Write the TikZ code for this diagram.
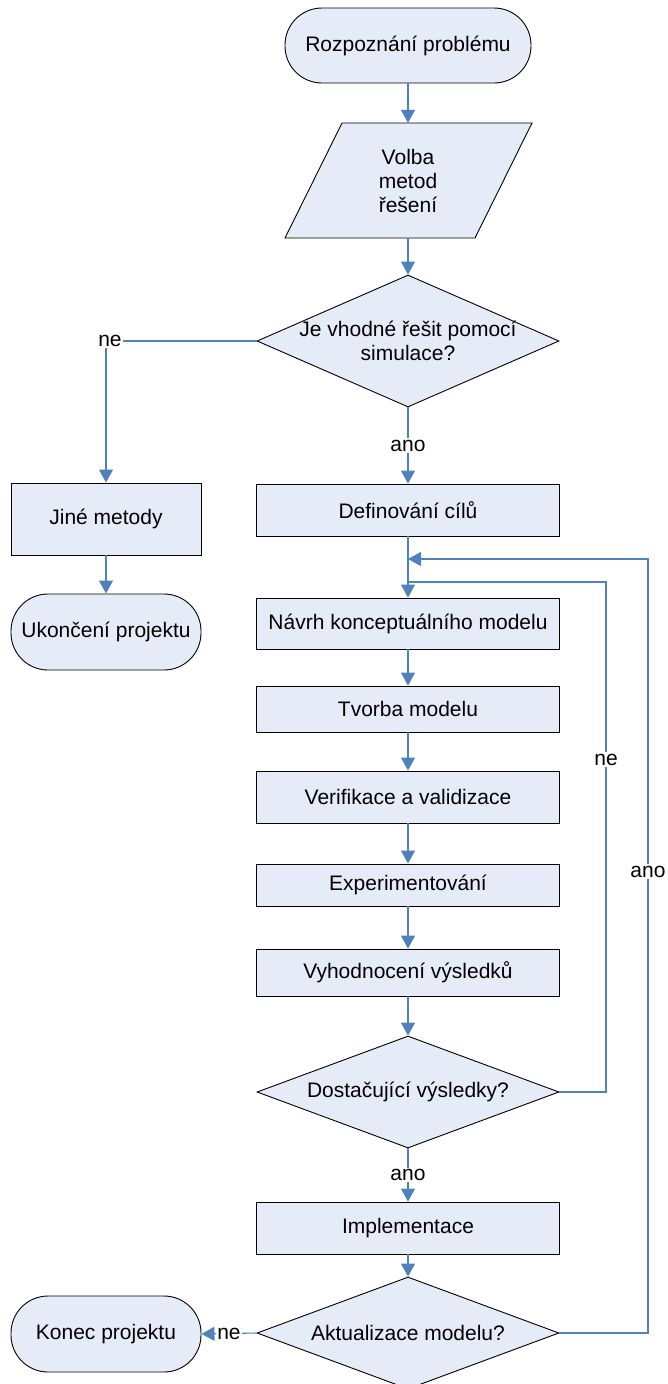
\documentclass[tikz,border=0pt]{standalone}
\usepackage{fontspec}
\setmainfont{Liberation Sans}
\usetikzlibrary{shapes.geometric,arrows.meta}
\definecolor{boxfill}{RGB}{230,236,247}
\definecolor{flow}{RGB}{79,129,189}
\begin{document}
\begin{tikzpicture}[x=1pt,y=-1pt,
  font=\fontsize{21}{24}\selectfont,
  box/.style={draw=black, fill=boxfill, line width=0.9pt, inner sep=0pt,
              minimum width=303pt, align=center},
  term/.style={box, rounded corners=37pt, minimum width=190pt, minimum height=76pt},
  dec/.style={draw=black, fill=boxfill, line width=0.9pt, diamond, inner sep=0pt,
              minimum width=302pt, minimum height=112pt},
  txt/.style={align=center, inner sep=0pt},
  conn/.style={draw=flow, line width=1.1pt, -{Triangle[width=14pt,length=13pt]}},
  link/.style={draw=flow, line width=1.1pt},
  lbl/.style={fill=white, inner sep=1.5pt}]
\useasboundingbox (0,0) rectangle (667,1384);

% main column
\node[term, minimum width=246pt, minimum height=75pt] (start) at (408,45.5) {Rozpoznání problému};

% input/output parallelogram, outline first, then its text node
\coordinate (pa) at (342,123);
\coordinate (pb) at (532,123);
\coordinate (pc) at (475,238);
\coordinate (pd) at (285,238);
\draw[fill=boxfill, draw=black, line width=0.9pt] (pa) -- (pb) -- (pc) -- (pd) -- cycle;
\node[txt, minimum width=190pt, minimum height=115pt] (para) at (408,180.5) {Volba\\metod\\řešení};

\node[dec, minimum height=132pt, label={[txt]center:{Je vhodné řešit pomocí\\simulace?}}] (d1) at (408,341) {};
\node[box, minimum height=52pt] (def) at (408,510) {Definování cílů};
\node[box, minimum height=51pt] (navrh) at (408,623.5) {Návrh konceptuálního modelu};
\node[box, minimum height=46pt] (tvorba) at (408,709) {Tvorba modelu};
\node[box, minimum height=52pt] (verif) at (408,797) {Verifikace a validizace};
\node[box, minimum height=42pt] (exper) at (408,885) {Experimentování};
\node[box, minimum height=47pt] (vyhod) at (408,972.5) {Vyhodnocení výsledků};
\node[dec, label={[txt]center:Dostačující výsledky?}] (d2) at (408,1092) {};
\node[box, minimum height=52pt] (impl) at (408,1228) {Implementace};
\node[dec, label={[txt]center:Aktualizace modelu?}] (d3) at (408,1333) {};

% left column
\node[box, minimum width=190pt, minimum height=72pt] (jine) at (106,519) {Jiné metody};
\node[term] (ukon) at (106,632) {Ukončení projektu};
\node[term] (konec) at (106,1334) {Konec projektu};

% junctions of the feedback loops
\coordinate (jne) at (408,582);
\coordinate (jano) at (408,559);
\coordinate (tne) at (606,582);
\coordinate (tano) at (648,559);

% connectors
\draw[conn] (start) -- (para);
\draw[conn] (para) -- (d1);
\draw[conn] (d1.west) -| node[lbl, pos=0.5, xshift=4pt] {ne} (jine.north);
\draw[conn] (jine) -- (ukon);
\draw[conn] (d1.south) -- node[lbl] {ano} (def.north);
\draw[conn] (def) -- (navrh);
\draw[conn] (navrh) -- (tvorba);
\draw[conn] (tvorba) -- (verif);
\draw[conn] (verif) -- (exper);
\draw[conn] (exper) -- (vyhod);
\draw[conn] (vyhod) -- (d2.north);
\draw[conn] (d2.south) -- node[lbl] {ano} (impl.north);
\draw[conn] (impl) -- (d3.north);
\draw[conn] (d3.west) -- node[lbl] {ne} (konec.east);
\draw[link] (d2.east) -| node[lbl, pos=0.826] {ne} (tne) -- (jne);
\draw[conn] (d3.east) -| node[lbl, pos=0.798] {ano} (tano) -- (jano);
\end{tikzpicture}
\end{document}
